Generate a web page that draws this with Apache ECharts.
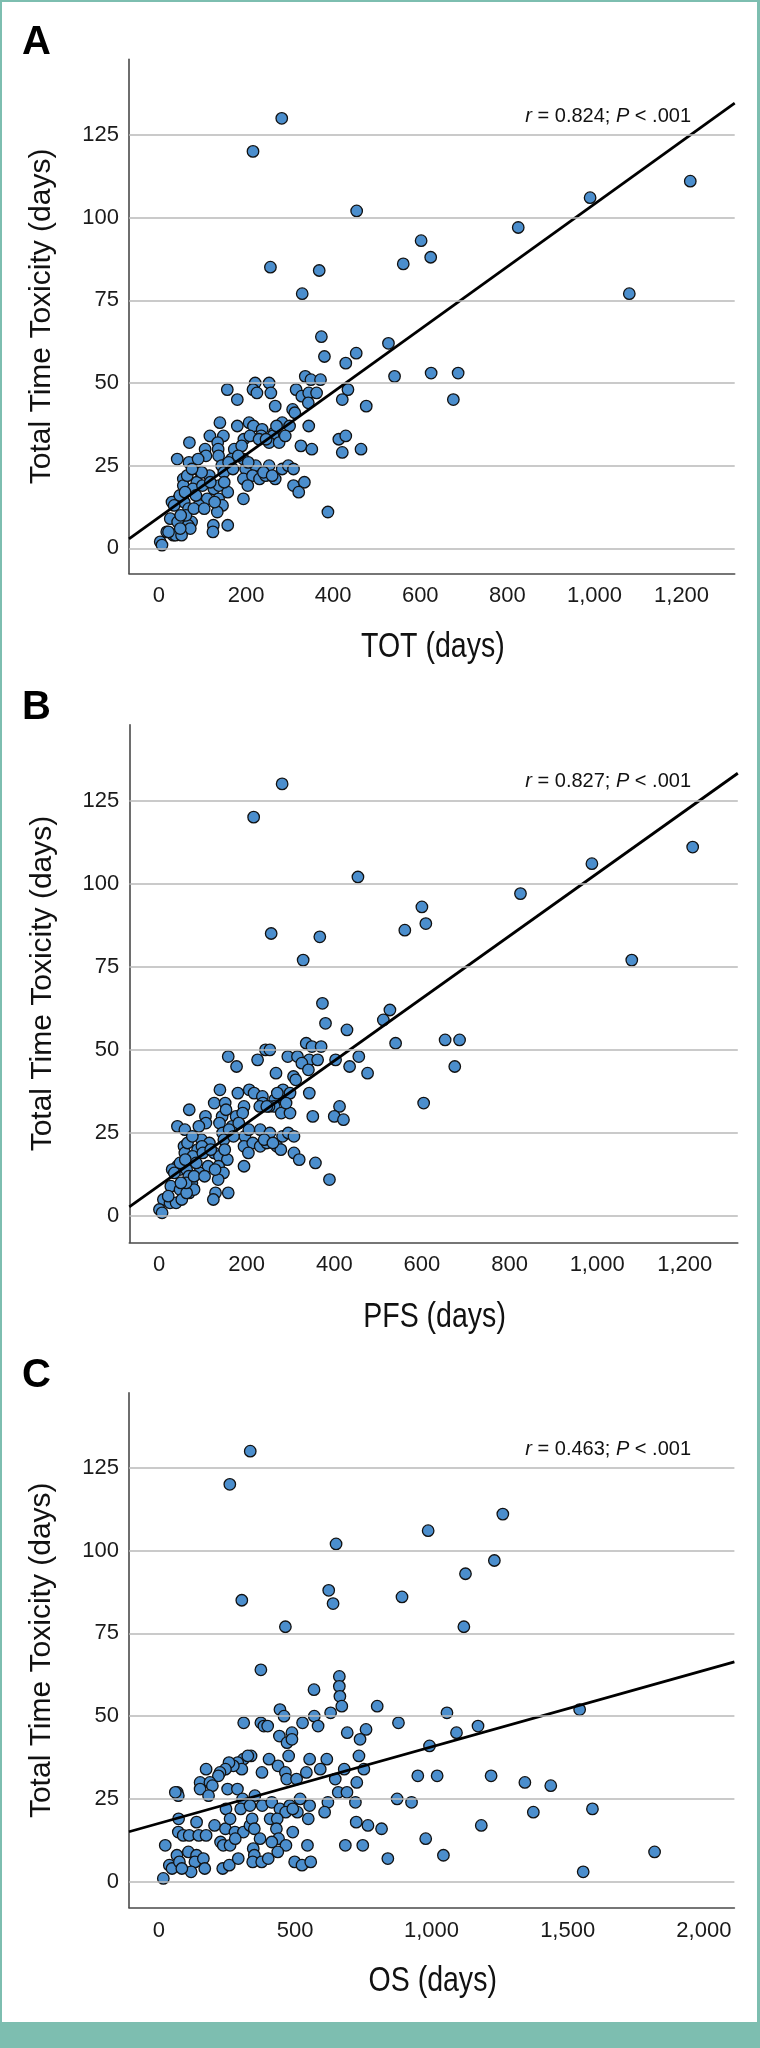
<!DOCTYPE html>
<html>
<head>
<meta charset="utf-8">
<script src="https://cdn.jsdelivr.net/npm/echarts@6/dist/echarts.min.js"></script>
<style>
  html, body { margin:0; padding:0; background:#ffffff; }
  #wrap { position:relative; width:760px; height:2048px; background:#ffffff; overflow:hidden; }
  #chart { position:absolute; left:0; top:0; width:760px; height:2048px; }
  .bd { position:absolute; background:#7dbeb0; }
</style>
</head>
<body>
<div id="wrap">
  <div id="chart"></div>
  <div class="bd" style="left:0;top:0;width:760px;height:2px;"></div>
  <div class="bd" style="left:0;top:0;width:2px;height:2048px;"></div>
  <div class="bd" style="left:757px;top:0;width:3px;height:2048px;"></div>
  <div class="bd" style="left:0;top:2022px;width:760px;height:26px;"></div>
</div>
<script>
// ---------------- DATA ----------------
const yTicks = [0, 25, 50, 75, 100, 125];
const xTicksTOT = [0, 200, 400, 600, 800, 1000, 1200];
const xTicksPFS = [0, 200, 400, 600, 800, 1000, 1200];
const xTicksOS = [0, 500, 1000, 1500, 2000];

// Panel A: TOT (days) vs Total Time Toxicity (days)
const pointsTOT = [
  [282,130],[216,120],[454,102],[990,106],[1220,111],[825,97],[602,93],[624,88],[561,86],[256,85],
  [368,84],[329,77],[1080,77],[687,53],[676,45],
  [373,64],[380,58],[527,62],[453,59],[429,56],[541,52],[625,53],[336,52],[349,51],[371,51],
  [221,50],[253,50],[157,48],[216,48],[225,47],[257,47],[315,48],[328,46],[344,47],[362,47],
  [343,44],[180,45],[267,43],[434,48],[421,45],[476,43],[307,42],[312,41],[344,37],[283,38],
  [300,37],[140,38],[180,37],[207,38],[217,37],[237,36],[235,34],[265,35],[262,34],[253,32],
  [276,32],[117,34],[148,34],[70,32],[106,30],[135,32],[136,30],[108,28],[173,30],[195,33],
  [190,31],[209,34],[326,31],[351,30],[413,33],[429,34],[421,29],[464,30],[42,27],[69,26],
  [90,27],[96,23],[137,28],[144,25],[167,27],[194,27],[149,23],[199,24],[222,25],[253,25],
  [283,24],[297,25],[309,24],[194,21],[215,22],[231,21],[245,22],[267,21],[204,19],[309,19],
  [334,20],[321,17],[194,15],[388,11],[56,21],[87,20],[116,22],[56,19],[78,18],[98,23],
  [126,18],[138,19],[158,17],[111,15],[137,15],[146,13],[134,11],[41,14],[45,15],[58,14],
  [68,12],[92,13],[26,9],[43,8],[75,8],[67,7],[72,6],[125,7],[124,5],[158,7],
  [18,5],[33,4],[38,4],[52,4],[3,2],[7,1],[22,5],[49,6],
  [30,14],[35,13],[48,16],[60,17],[62,10],[50,10],[80,12],[85,16],[100,19],[104,12],
  [65,22],[76,24],[118,20],[128,14],[150,20],[160,26],[170,24],[182,28],[230,33],[246,33],
  [270,37],[290,34],[240,23],[260,22],[205,26]
];
const fitTOT = [[-68.7, 2.9], [1322, 134.6]];

// Panel B: PFS (days) vs Total Time Toxicity (days)
const pointsPFS = [
  [281,130],[216,120],[454,102],[988,106],[1218,111],[825,97],[600,93],[609,88],[561,86],[256,85],
  [367,84],[329,77],[1079,77],[686,53],[675,45],
  [373,64],[380,58],[527,62],[512,59],[429,56],[540,52],[653,53],[336,52],[349,51],[370,51],
  [243,50],[253,50],[158,48],[177,45],[225,47],[294,48],[316,48],[343,47],[362,47],[326,46],
  [341,44],[267,43],[403,47],[456,48],[435,45],[476,43],[307,42],[312,41],[343,37],[283,38],
  [299,37],[139,38],[180,37],[206,38],[217,37],[236,36],[237,34],[264,35],[263,33],[279,31],
  [251,33],[299,31],[351,30],[412,33],[400,30],[421,29],[604,34],[126,34],[151,34],[69,32],
  [106,30],[144,30],[153,32],[107,28],[176,30],[194,33],[191,31],[42,27],[59,26],[91,27],
  [97,23],[138,28],[145,25],[167,27],[148,23],[196,24],[231,26],[253,25],[282,24],[295,25],
  [308,24],[194,21],[214,22],[231,21],[246,22],[269,21],[278,20],[204,19],[308,19],[320,17],
  [357,16],[194,15],[389,11],[57,21],[88,20],[115,22],[59,19],[77,18],[98,21],[126,19],
  [138,18],[156,17],[112,15],[136,15],[147,13],[135,11],[42,15],[47,14],[63,14],[68,12],
  [92,13],[27,9],[48,8],[75,10],[69,7],[80,8],[129,7],[124,5],[158,7],[10,5],
  [25,4],[39,4],[52,5],[1,2],[7,1],[21,6],[63,7],
  [30,14],[35,13],[48,16],[60,17],[62,10],[50,10],[80,12],[85,16],[100,19],[104,12],
  [65,22],[76,24],[118,20],[128,14],[150,20],[160,26],[170,24],[182,28],[230,33],[246,33],
  [270,37],[290,34],[240,23],[260,22],[205,26]
];
const fitPFS = [[-67.8, 2.8], [1321, 133.2]];

// Panel C: OS (days) vs Total Time Toxicity (days)
const pointsOS = [
  [335,130],[260,120],[650,102],[988,106],[1262,111],[1231,97],[1125,93],[623,88],[892,86],[639,84],
  [304,85],[464,77],[1119,77],[374,64],[662,62],[662,59],[664,56],[671,53],[569,58],[801,53],
  [1057,51],[1544,52],[879,48],[1171,47],[1092,45],[993,41],[950,32],[1021,32],[1219,32],[1343,30],
  [1438,29],[1374,21],[1591,22],[1183,17],[979,13],[1044,8],[1557,3],[1819,9],[927,24],[874,25],
  [840,7],[817,16],
  [444,52],[459,50],[570,50],[630,51],[311,48],[374,48],[385,47],[399,47],[527,48],[584,47],
  [442,44],[470,42],[488,45],[488,43],[691,45],[760,46],[738,43],[338,38],[476,38],[404,37],
  [437,35],[464,33],[469,31],[505,31],[541,33],[553,37],[592,34],[616,37],[647,31],[680,34],
  [734,38],[752,34],[726,30],[658,27],[690,27],[721,24],[620,24],[608,21],[310,37],[326,38],
  [289,36],[304,34],[273,35],[257,36],[244,34],[224,33],[173,34],[218,32],[151,30],[187,30],
  [196,29],[151,28],[182,26],[67,27],[71,26],[60,27],[378,33],[252,28],[288,28],[352,26],
  [307,25],[300,22],[334,23],[246,22],[379,23],[414,24],[444,22],[480,23],[508,21],[518,25],
  [553,23],[548,19],[465,21],[491,22],[72,19],[138,18],[204,17],[71,15],[89,14],[111,14],
  [146,14],[173,14],[244,16],[261,19],[279,15],[310,15],[334,17],[342,19],[350,16],[371,13],
  [408,19],[434,19],[431,16],[439,13],[414,12],[466,11],[491,15],[226,12],[236,11],[261,11],
  [280,13],[346,10],[350,8],[436,9],[545,11],[684,11],[748,11],[767,17],[724,18],[23,11],
  [38,5],[48,4],[66,8],[75,6],[108,9],[138,8],[132,6],[163,7],[168,4],[118,3],
  [84,4],[16,1],[234,4],[258,5],[291,7],[344,6],[377,6],[401,7],[498,6],[525,5],[557,6]
];
const fitOS = [[-110, 15.1], [2112, 66.4]];

const panelLetters = ['A', 'B', 'C'];
const xTitles = ['TOT (days)', 'PFS (days)', 'OS (days)'];
const yTitle = 'Total Time Toxicity (days)';
const stats = [['0.824', '.001'], ['0.827', '.001'], ['0.463', '.001']];

// ---------------- LAYOUT / STYLE ----------------
const FONT = "'Liberation Sans', Arial, Helvetica, sans-serif";
const grids = [
  { left: 129, top: 59.4, width: 605.7, height: 514 },
  { left: 129.3, top: 724.7, width: 608.5, height: 517.7 },
  { left: 129, top: 1392.9, width: 605.4, height: 514.7 }
];
const xRanges = [[-68.7, 1322], [-67.8, 1321], [-110, 2112]];
const yRanges = [[-7.55, 147.8], [-7.9, 147.8], [-7.8, 147.6]];
const xTickSets = [xTicksTOT, xTicksPFS, xTicksOS];
const pointSets = [pointsTOT, pointsPFS, pointsOS];
const fitSets = [fitTOT, fitPFS, fitOS];
const xTitleY = [647.5, 1317, 1981];

const axisLineStyle = { color: '#4a4a4a', width: 1.6 };

const xAxes = [], yAxes = [], series = [], graphics = [];
for (let i = 0; i < 3; i++) {
  xAxes.push({
    type: 'value', gridIndex: i, min: xRanges[i][0], max: xRanges[i][1],
    splitLine: { show: false }, axisTick: { show: false },
    axisLine: { show: true, onZero: false, lineStyle: axisLineStyle },
    axisLabel: {
      customValues: xTickSets[i], color: '#1a1a1a', fontSize: 22, fontFamily: FONT, margin: 12,
      formatter: v => Number(v).toLocaleString('en-US')
    }
  });
  yAxes.push({
    type: 'value', gridIndex: i, min: yRanges[i][0], max: yRanges[i][1],
    splitLine: { show: false }, axisTick: { show: false },
    axisLine: { show: true, onZero: false, lineStyle: axisLineStyle },
    axisLabel: { customValues: yTicks, color: '#1a1a1a', fontSize: 22, fontFamily: FONT, margin: 10 },
    name: yTitle, nameLocation: 'middle', nameRotate: 90, nameGap: 72,
    nameTextStyle: { fontSize: 30, fontFamily: FONT, color: '#111' }
  });
  // horizontal reference lines at the y ticks
  series.push({
    type: 'scatter', xAxisIndex: i, yAxisIndex: i, data: [], z: 1, silent: true,
    markLine: {
      silent: true, symbol: ['none', 'none'], label: { show: false }, animation: false,
      lineStyle: { color: '#b9b9b9', width: 1.5, type: 'solid' },
      emphasis: { disabled: true },
      data: yTicks.map(v => ({ yAxis: v }))
    }
  });
  series.push({
    type: 'scatter', xAxisIndex: i, yAxisIndex: i, data: pointSets[i], z: 2,
    symbol: 'circle', symbolSize: 11.5,
    itemStyle: { color: '#4b8ecd', borderColor: '#111111', borderWidth: 1.3, opacity: 1 }
  });
  series.push({
    type: 'line', xAxisIndex: i, yAxisIndex: i, data: fitSets[i], z: 3, silent: true,
    symbol: 'none', showSymbol: false, clip: true,
    lineStyle: { color: '#000000', width: 2.8 }
  });
  const g = grids[i];
  graphics.push({
    type: 'text', x: 22, y: g.top - 16.5, silent: true,
    style: { text: panelLetters[i], font: "bold 40px " + FONT, fill: '#000', align: 'left', verticalAlign: 'middle' }
  });
  graphics.push({
    type: 'text', x: 691, y: g.top + 57, silent: true,
    style: {
      text: '{i|r} = ' + stats[i][0] + '; {i|P} < ' + stats[i][1],
      align: 'right', verticalAlign: 'middle',
      font: "20px " + FONT, fill: '#111',
      rich: { i: { fontStyle: 'italic', fontSize: 20, fontFamily: FONT, fill: '#111', color: '#111' } }
    }
  });
  // condensed x-axis title
  graphics.push({
    type: 'text', x: g.left + g.width / 2 + 1, y: xTitleY[i], scaleX: 0.815, silent: true,
    style: { text: xTitles[i], font: "35px " + FONT, fill: '#111', align: 'center', verticalAlign: 'middle' }
  });
}

const chart = echarts.init(document.getElementById('chart'), null, { renderer: 'canvas' });
chart.setOption({
  animation: false,
  backgroundColor: '#ffffff',
  grid: grids,
  xAxis: xAxes,
  yAxis: yAxes,
  series: series,
  graphic: graphics
});
</script>
</body>
</html>
